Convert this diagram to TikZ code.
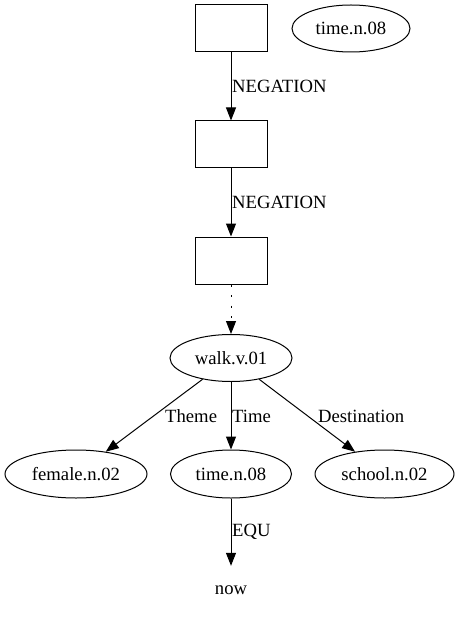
\documentclass[tikz,border=0pt]{standalone}
\usepackage{fontspec}
\setmainfont{Liberation Serif}
\usetikzlibrary{shapes.geometric,arrows.meta}
\begin{document}
\begin{tikzpicture}[x=1pt,y=-1pt,
  every node/.style={font=\fontsize{18.67}{22}\selectfont, inner sep=0pt},
  boxnode/.style={draw, line width=1pt, rectangle, minimum width=72pt, minimum height=47pt},
  ellnode/.style={draw, line width=1pt, ellipse, minimum height=47pt},
  lbl/.style={anchor=west, inner sep=1pt},
  conn/.style={line width=1pt, -{Triangle[length=13pt,width=10pt]}},
  dotconn/.style={conn, dash pattern=on 2pt off 8.5pt}
]
\useasboundingbox (0,0) rectangle (459,620);
\node[boxnode] (b1) at (231,28.5) {};
\node[boxnode] (b2) at (231,144.5) {};
\node[boxnode] (b3) at (231,260.5) {};
\node[ellnode, minimum width=118pt] (t0) at (351,28.5) {time.n.08};
\node[ellnode, minimum width=122pt] (walk) at (231,358) {walk.v.01};
\node[ellnode, minimum width=142pt, minimum height=48pt] (fem) at (76,474) {female.n.02};
\node[ellnode, minimum width=121pt, minimum height=48pt] (time) at (231,474) {time.n.08};
\node[ellnode, minimum width=139pt, minimum height=48pt] (school) at (384.5,474) {school.n.02};
\node[minimum height=48pt] (now) at (231,590) {now};

\draw[conn] (b1) -- (b2);
\draw[conn] (b2) -- (b3);
\draw[dotconn] (b3) -- (walk);
\draw[conn] (walk) -- (fem);
\draw[conn] (walk) -- (time);
\draw[conn] (walk) -- (school);
\draw[conn] (time) -- (now);

\node[lbl] (l1) at (231,86) {NEGATION};
\node[lbl] (l2) at (231,202) {NEGATION};
\node[lbl] (l3) at (164,416) {Theme};
\node[lbl] (l4) at (231,416) {Time};
\node[lbl] (l5) at (317,416) {Destination};
\node[lbl] (l6) at (231,532) {EQU};
\end{tikzpicture}
\end{document}
